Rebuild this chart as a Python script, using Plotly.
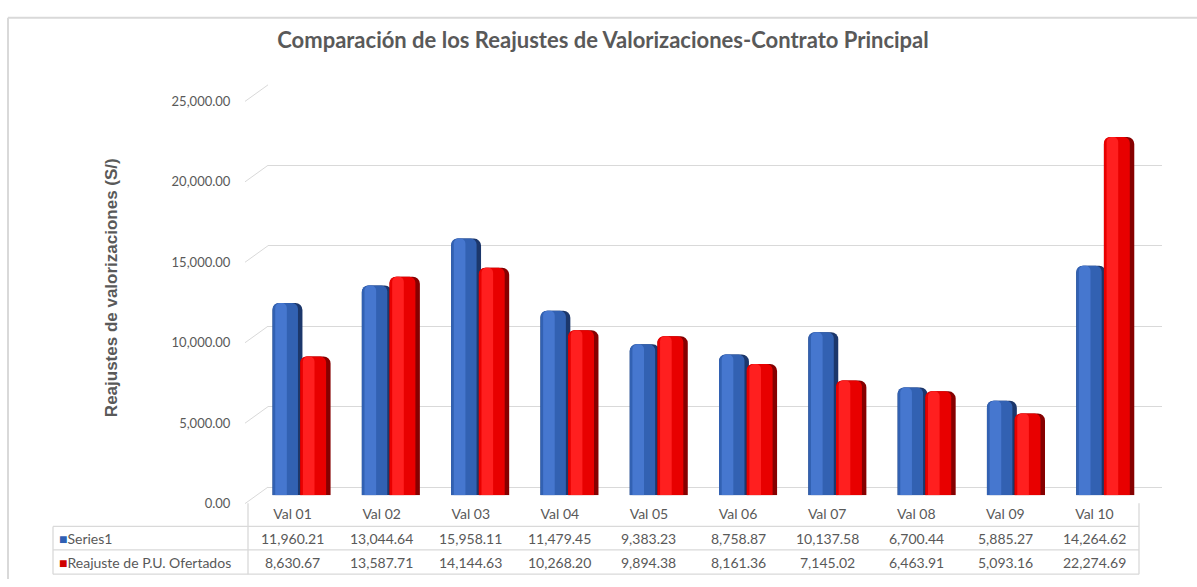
import plotly.graph_objects as go

categories = ["Val 01", "Val 02", "Val 03", "Val 04", "Val 05",
              "Val 06", "Val 07", "Val 08", "Val 09", "Val 10"]
series1 = [11960.21, 13044.64, 15958.11, 11479.45, 9383.23,
           8758.87, 10137.58, 6700.44, 5885.27, 14264.62]
reajuste = [8630.67, 13587.71, 14144.63, 10268.20, 9894.38,
            8161.36, 7145.02, 6463.91, 5093.16, 22274.69]
series_names = ["Series1", "Reajuste de P.U. Ofertados"]
y_ticks = [0, 5000, 10000, 15000, 20000, 25000]
y_tick_labels = ["0.00", "5,000.00", "10,000.00", "15,000.00", "20,000.00", "25,000.00"]

W, H = 1197, 587
TXT = "#595959"
GRID = "#d9d9d9"
FONT = "Lato"


def px(x):
    return x / W


def py(y):
    return 1 - y / H


PX_PER_UNIT = 413.5 / 25000.0

fig = go.Figure()

# subplot 1 : back wall gridlines
fig.add_trace(go.Scatter(x=[0], y=[0], mode="markers", marker=dict(opacity=0),
                         hoverinfo="skip", showlegend=False, xaxis="x", yaxis="y"))

# subplot 2 : 3D-looking bars (layers: side, face, highlight)
blue_layers = [("#1c376b", -0.33, 0.335), ("#3261b2", -0.33, 0.285), ("#4677cf", -0.30, 0.13)]
red_layers = [("#860000", -0.02, 0.34), ("#e80000", -0.02, 0.29), ("#ff1f1f", 0.01, 0.13)]
for vals, layers, name in [(series1, blue_layers, series_names[0]),
                           (reajuste, red_layers, series_names[1])]:
    for i, (col, off, wid) in enumerate(layers):
        fig.add_trace(go.Bar(
            x=categories, y=vals, name=name, offset=off, width=wid,
            marker=dict(color=col, line=dict(width=0), cornerradius=7 if i == 0 else 6),
            showlegend=False, xaxis="x2", yaxis="y2",
            hovertemplate="%{x}: %{y:,.2f}<extra>" + name + "</extra>"))

# subplot 3 : front plane (tick labels + category labels)
fig.add_trace(go.Scatter(x=categories, y=[0] * len(categories), mode="markers",
                         marker=dict(opacity=0), hoverinfo="skip", showlegend=False,
                         xaxis="x3", yaxis="y3"))

shapes = []
annotations = []

# diagonal stubs connecting front tick labels to back wall gridlines
for v in y_ticks:
    shapes.append(dict(type="line", xref="paper", yref="paper",
                       x0=px(245), y0=py(509.5 - v * PX_PER_UNIT),
                       x1=px(268), y1=py(492.5 - v * PX_PER_UNIT),
                       line=dict(color=GRID, width=1)))

# outer chart frame
shapes.append(dict(type="line", xref="paper", yref="paper", x0=px(8), x1=px(8),
                   y0=py(10), y1=0, line=dict(color=GRID, width=2)))
shapes.append(dict(type="line", xref="paper", yref="paper", x0=px(8), x1=1,
                   y0=py(10), y1=py(10), line=dict(color=GRID, width=2)))

# data table lines
for yy in [533, 557, 582]:
    shapes.append(dict(type="line", xref="paper", yref="paper", x0=px(53), x1=px(1139),
                       y0=py(yy), y1=py(yy), line=dict(color=GRID, width=1.3)))
shapes.append(dict(type="line", xref="paper", yref="paper", x0=px(53), x1=px(53),
                   y0=py(533), y1=py(582), line=dict(color=GRID, width=1.3)))
for xx in [248, 1139]:
    shapes.append(dict(type="line", xref="paper", yref="paper", x0=px(xx), x1=px(xx),
                       y0=py(509), y1=py(582), line=dict(color=GRID, width=1.3)))

# data table texts
row_y = [545, 570]
key_cols = ["#2f5fb3", "#d00000"]
for name, kc, yy in zip(series_names, key_cols, row_y):
    annotations.append(dict(xref="paper", yref="paper", x=px(57), y=py(yy),
                            xanchor="left", yanchor="middle", showarrow=False,
                            text=f"<span style='color:{kc}'>■</span>{name}",
                            font=dict(family=FONT, size=14, color=TXT)))
for vals, yy in zip([series1, reajuste], row_y):
    for c, v in zip(categories, vals):
        annotations.append(dict(xref="x3", yref="paper", x=c, y=py(yy),
                                xanchor="center", yanchor="middle", showarrow=False,
                                text=f"{v:,.2f}",
                                font=dict(family=FONT, size=14, color=TXT)))

# y axis title
annotations.append(dict(xref="paper", yref="paper", x=px(111), y=py(288),
                        xanchor="center", yanchor="middle", showarrow=False,
                        textangle=-90, text="Reajustes de valorizaciones (S/)",
                        font=dict(family="Liberation Sans", size=17, color=TXT, weight="bold")))

fig.update_layout(
    width=W, height=H, autosize=False,
    margin=dict(l=0, r=0, t=0, b=0),
    paper_bgcolor="white", plot_bgcolor="rgba(0,0,0,0)",
    showlegend=False, barmode="overlay",
    title=dict(text="<b>Comparación de los Reajustes de Valorizaciones-Contrato Principal</b>",
               x=px(603), y=py(40), xanchor="center", yanchor="middle",
               font=dict(family=FONT, size=22, color=TXT)),
    xaxis=dict(domain=[px(268), px(1162)], range=[0, 1], visible=False, anchor="y"),
    yaxis=dict(domain=[py(492.5), py(79)], range=[0, 25000], tickvals=y_ticks,
               showgrid=True, gridcolor=GRID, gridwidth=1, zeroline=True,
               zerolinecolor=GRID, zerolinewidth=1, showticklabels=False,
               showline=False, ticks="", anchor="x"),
    xaxis2=dict(domain=[px(257.35), px(1150.35)], type="category",
                range=[-0.5, 9.5], visible=False, anchor="y2"),
    yaxis2=dict(domain=[py(501), py(87.5)], range=[0, 25000], visible=False, anchor="x2"),
    xaxis3=dict(domain=[px(248), px(1139)], type="category", range=[-0.5, 9.5],
                anchor="y3", showgrid=False, zeroline=False, showline=False,
                ticks="", tickfont=dict(family=FONT, size=14, color=TXT)),
    yaxis3=dict(domain=[py(509.5), py(96)], range=[0, 25000], anchor="x3",
                tickvals=y_ticks, ticktext=y_tick_labels, showgrid=False,
                zeroline=False, showline=False, ticks="outside", ticklen=14,
                tickcolor="rgba(0,0,0,0)",
                tickfont=dict(family=FONT, size=13, color=TXT)),
    shapes=shapes, annotations=annotations,
)

fig.write_html("out.html", config={"displayModeBar": False},
               post_script="document.body.style.margin='0';document.body.style.overflow='hidden';")
